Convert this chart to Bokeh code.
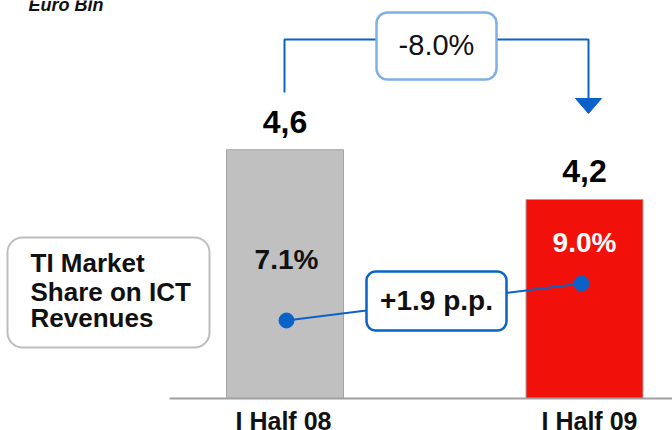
from bokeh.plotting import figure
from bokeh.models import Range1d
from bokeh.core.properties import value
from bokeh.embed import file_html
from bokeh.resources import INLINE

# ---- data ----
periods = ["I Half 08", "I Half 09"]
revenues = [4.6, 4.2]                 # Euro Bln
revenue_labels = ["4,6", "4,2"]
market_share = [7.1, 9.0]             # TI market share on ICT revenues, %
share_labels = ["7.1%", "9.0%"]
revenue_change = "-8.0%"
share_change = "+1.9 p.p."
unit_label = "Euro Bln"
legend_lines = ["TI Market", "Share on ICT", "Revenues"]

# ---- layout ----
W, H = 672, 430
AXIS_BASE = 2.6          # value at the category axis line
bar_x = [284.5, 584.0]
BAR_W = 117
dot_x = [286, 581]
cat_x = [283, 589]
FONT = value("Liberation Sans")
BLUE = "#0a62c9"


def base(y, size):
    """Screen y of a text baseline, compensating for the renderer's baseline shift."""
    return y - 0.38 * size


p = figure(width=W, height=H, output_backend="svg", toolbar_location=None,
           x_range=Range1d(0, W), y_range=Range1d(2.3427, 5.8),
           x_axis_location=None, y_axis_location=None, min_border=0)
p.extra_y_ranges = {"px": Range1d(H, 0), "share": Range1d(1.451, 23.532)}
p.grid.visible = False
p.outline_line_color = None
p.background_fill_color = "white"

# bars
p.vbar(x=bar_x, top=revenues, bottom=AXIS_BASE, width=BAR_W,
       fill_color=["#c0c0c0", "#f2110a"], line_color="#a4a4a4", line_width=1)

# category axis line and labels
p.segment(x0=169, y0=AXIS_BASE, x1=W, y1=AXIS_BASE, line_color="#a0a0a0", line_width=2)
p.text(x=cat_x, y=[base(430, 25)] * 2, text=periods, y_range_name="px", text_font=FONT,
       text_font_style="bold", text_font_size="25px", text_align="center",
       text_baseline="alphabetic", text_color="#111111")

# revenue values above the bars
p.text(x=bar_x, y=revenues, text=revenue_labels, y_offset=-16 - 0.38 * 32, text_font=FONT,
       text_font_style="bold", text_font_size="32px", text_align="center",
       text_baseline="alphabetic", text_color="black")

# market share labels inside the bars
p.text(x=[286, 584], y=[base(270, 28), base(253, 28)], text=share_labels, y_range_name="px",
       text_font=FONT, text_font_style="bold", text_font_size="28px", text_align="center",
       text_baseline="alphabetic", text_color=["#111111", "white"])

# market share dots and connector
p.line(x=dot_x, y=market_share, y_range_name="share", line_color=BLUE, line_width=2)
p.scatter(x=dot_x, y=market_share, y_range_name="share", size=15,
          fill_color=BLUE, line_color=BLUE)

# share change box
p.quad(left=366, right=506, top=271, bottom=330, y_range_name="px",
       fill_color="white", line_color=BLUE, line_width=2.5, border_radius=9)
p.text(x=[436], y=[base(310.5, 28)], text=[share_change], y_range_name="px", text_font=FONT,
       text_font_style="bold", text_font_size="28px", text_align="center",
       text_baseline="alphabetic", text_color="#111111")

# revenue change arrow
p.line(x=[284, 284, 588, 588], y=[92, 39, 39, 99], y_range_name="px",
       line_color=BLUE, line_width=2)
p.patch(x=[575, 601, 588], y=[98, 98, 113], y_range_name="px",
        fill_color=BLUE, line_color=BLUE)
p.quad(left=376, right=496, top=12, bottom=79, y_range_name="px",
       fill_color="white", line_color="#80afe3", line_width=2.5, border_radius=11)
p.text(x=[436], y=[base(56, 29)], text=[revenue_change], y_range_name="px", text_font=FONT,
       text_font_size="29px", text_align="center", text_baseline="alphabetic",
       text_color="#111111")

# side caption box
p.quad(left=7, right=209, top=237, bottom=347, y_range_name="px",
       fill_color="white", line_color="#bdbdbd", line_width=2, border_radius=15)
p.text(x=[30, 30, 30], y=[base(272, 26), base(301, 26), base(327, 26)], text=legend_lines,
       y_range_name="px", text_font=FONT, text_font_style="bold", text_font_size="26px",
       text_align="left", text_baseline="alphabetic", text_color="#111111")

# unit caption
p.text(x=[28], y=[base(11, 18)], text=[unit_label], y_range_name="px", text_font=FONT,
       text_font_style="bold italic", text_font_size="18px", text_align="left",
       text_baseline="alphabetic", text_color="#111111")

open("out.html", "w").write(file_html(p, INLINE))
